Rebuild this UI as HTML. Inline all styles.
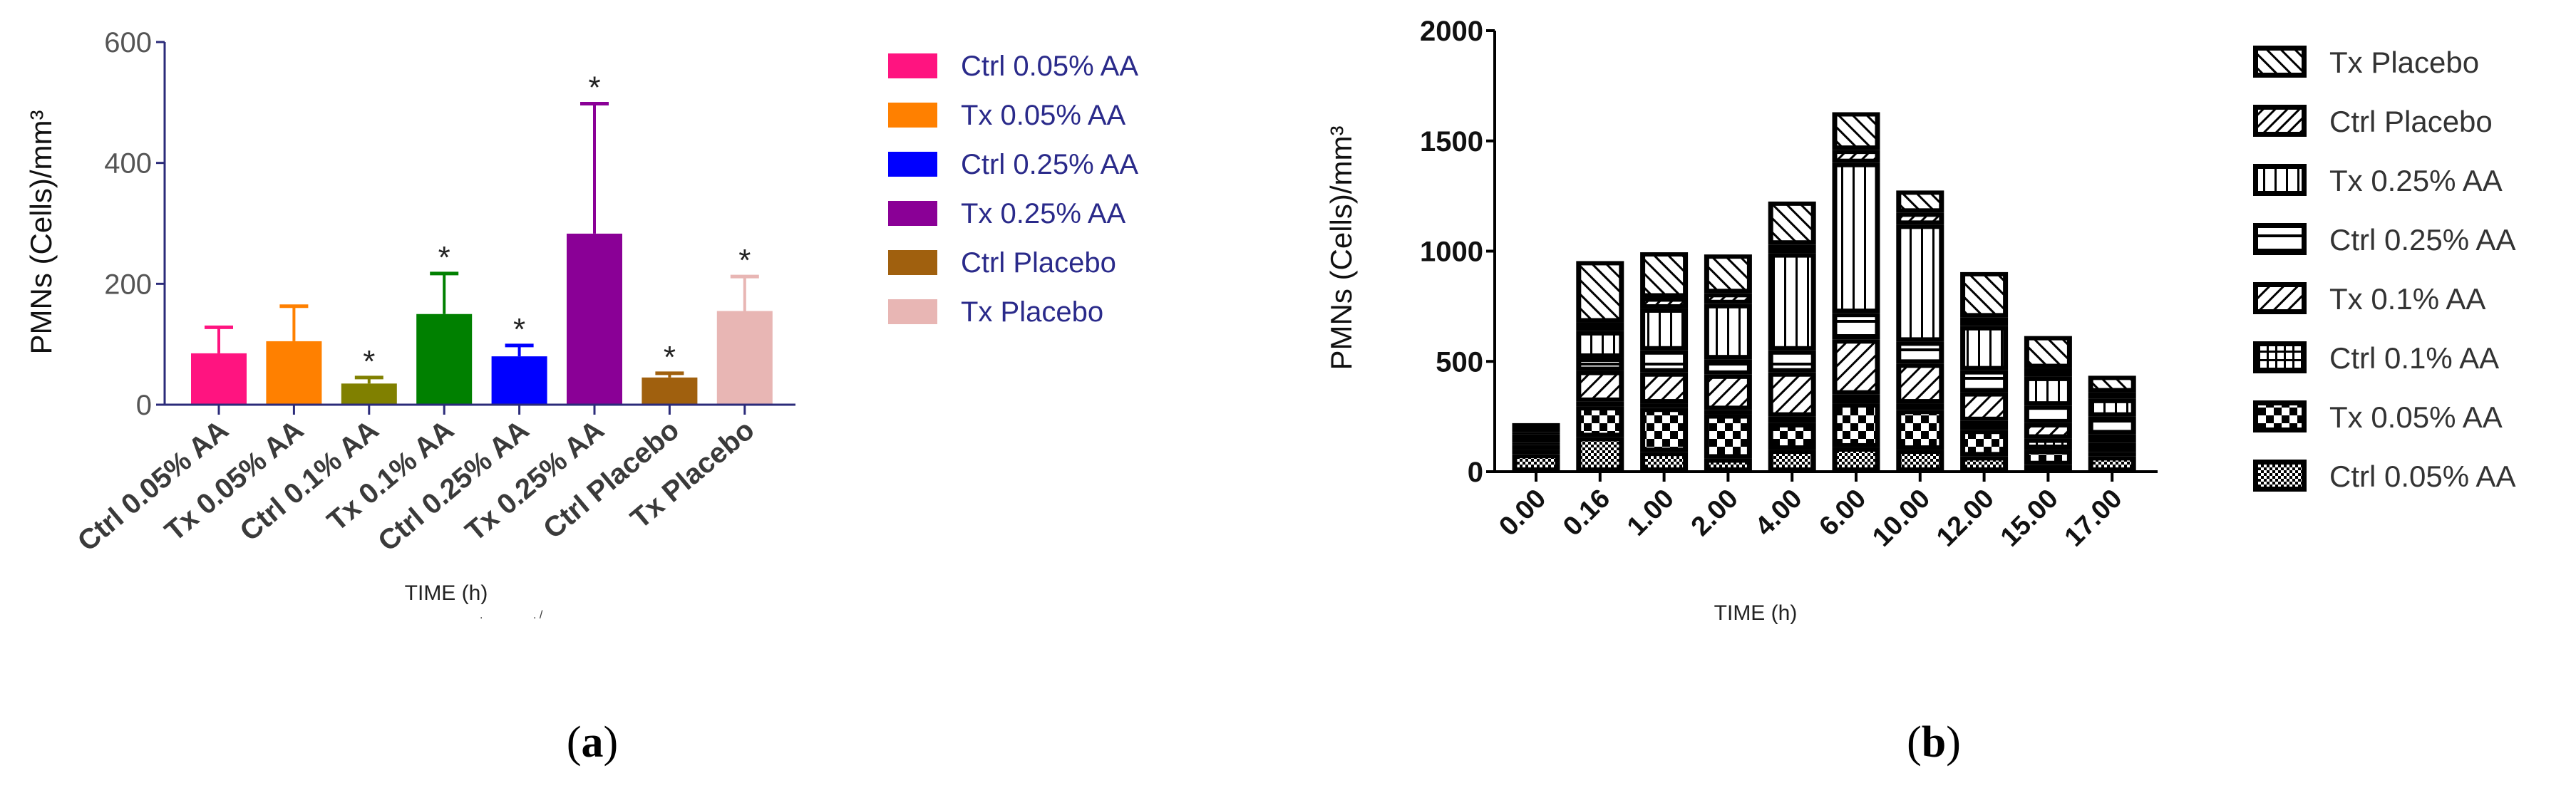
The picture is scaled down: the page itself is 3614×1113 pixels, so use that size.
<!DOCTYPE html>
<html><head><meta charset="utf-8"><style>
html,body{margin:0;padding:0;background:#fff;}
svg{display:block;font-family:"Liberation Sans",Arial,sans-serif;}
</style></head><body>
<svg id="fig" width="3614" height="1113" viewBox="0 0 3614 1113" xmlns="http://www.w3.org/2000/svg">
<defs>
 <pattern id="p-c05" patternUnits="userSpaceOnUse" width="8" height="8"><rect width="8" height="8" fill="#fff"/><rect width="4" height="4" fill="#000"/><rect x="4" y="4" width="4" height="4" fill="#000"/></pattern>
 <pattern id="p-t05" patternUnits="userSpaceOnUse" width="22" height="22"><rect width="22" height="22" fill="#fff"/><rect width="11" height="11" fill="#000"/><rect x="11" y="11" width="11" height="11" fill="#000"/></pattern>
 <pattern id="p-c1" patternUnits="userSpaceOnUse" width="12" height="12"><rect width="12" height="12" fill="#fff"/><rect width="12" height="3" fill="#000"/><rect width="3" height="12" fill="#000"/></pattern>
 <pattern id="p-t1" patternUnits="userSpaceOnUse" width="14" height="14" patternTransform="rotate(45)"><rect width="14" height="14" fill="#fff"/><rect width="3" height="14" fill="#000"/></pattern>
 <pattern id="p-c25" patternUnits="userSpaceOnUse" width="20" height="20"><rect width="20" height="20" fill="#fff"/><rect y="9" width="20" height="4" fill="#000"/></pattern>
 <pattern id="p-t25" patternUnits="userSpaceOnUse" width="16" height="16"><rect width="16" height="16" fill="#fff"/><rect x="7" width="3" height="16" fill="#000"/></pattern>
 <pattern id="p-cp" patternUnits="userSpaceOnUse" width="12" height="12" patternTransform="rotate(45)"><rect width="12" height="12" fill="#fff"/><rect width="3" height="12" fill="#000"/></pattern>
 <pattern id="p-tp" patternUnits="userSpaceOnUse" width="14" height="14" patternTransform="rotate(-45)"><rect width="14" height="14" fill="#fff"/><rect width="3" height="14" fill="#000"/></pattern>
</defs>
<g id="chartA"></g>
<g id="chartB"></g>
<text x="831" y="1062" font-family="Liberation Serif,serif" font-size="62" text-anchor="middle">(<tspan font-weight="bold">a</tspan>)</text>
<text x="2713" y="1062" font-family="Liberation Serif,serif" font-size="62" text-anchor="middle">(<tspan font-weight="bold">b</tspan>)</text>
<text x="673" y="868" font-size="16" fill="#333">.</text>
<text x="748" y="868" font-size="16" fill="#333">.  /</text>
</svg>
<script>
const NS='http://www.w3.org/2000/svg';
// ---- Chart A data ----
const catsA=['Ctrl 0.05% AA','Tx 0.05% AA','Ctrl 0.1% AA','Tx 0.1% AA','Ctrl 0.25% AA','Tx 0.25% AA','Ctrl Placebo','Tx Placebo'];
const meansA=[85,105,35,150,80,283,45,155];
const errTopA=[128,163,45,217,98,498,52,212];
const starA=[false,false,true,true,true,true,true,true];
const colorsA=['#ff1480','#ff8000','#808000','#008000','#0000ff','#8a0096','#a0600e','#e8b6b4'];
const ticksA=[0,200,400,600];
const legendA=['Ctrl 0.05% AA','Tx 0.05% AA','Ctrl 0.25% AA','Tx 0.25% AA','Ctrl Placebo','Tx Placebo'];
const legendColA=['#ff1480','#ff8000','#0000ff','#8a0096','#a0600e','#e8b6b4'];
// ---- Chart B data ----
const catsB=['0.00','0.16','1.00','2.00','4.00','6.00','10.00','12.00','15.00','17.00'];
const seriesB=['Ctrl 0.05% AA','Tx 0.05% AA','Ctrl 0.1% AA','Tx 0.1% AA','Ctrl 0.25% AA','Tx 0.25% AA','Ctrl Placebo','Tx Placebo'];
const c05=[80,157,90,60,100,110,100,70,30,70];
const t05=[20,140,200,200,120,200,180,120,70,20];
const c1=[20,20,20,20,30,40,30,40,50,40];
const t1=[10,140,140,160,200,250,180,130,70,40];
const c25=[40,60,100,70,100,120,100,100,80,80];
const t25=[10,120,190,250,440,680,530,200,130,80];
const cp=[30,40,50,50,40,60,55,40,40,30];
const tp=[10,278,205,175,195,170,100,205,145,75];
const ticksB=[0,500,1000,1500,2000];
const valsB=[c05,t05,c1,t1,c25,t25,cp,tp];
const patB=['p-c05','p-t05','p-c1','p-t1','p-c25','p-t25','p-cp','p-tp'];

function mk(parent,tag,attrs,text){const e=document.createElementNS(NS,tag);for(const k in attrs)e.setAttribute(k,attrs[k]);if(text!==undefined)e.textContent=text;parent.appendChild(e);return e;}

// ===== Chart A =====
(function(){
const g=document.getElementById('chartA');
const x0=231,x1=1116,yB=568,yT=59,max=600;
const y=v=>yB-(v/max)*(yB-yT);
const step=105.4, first=307;
const xc=i=>first+i*step;
const navy='#2b2b7a';
meansA.forEach((v,i)=>{
  const c=colorsA[i], cx=xc(i);
  const eb=mk(g,'line',{x1:cx,y1:y(v),x2:cx,y2:y(errTopA[i]),stroke:c,'stroke-width':4});
  
  
  const cap=mk(g,'line',{x1:cx-20,y1:y(errTopA[i]),x2:cx+20,y2:y(errTopA[i]),stroke:c,'stroke-width':5});
  
  
  const r=mk(g,'rect',{x:cx-39,y:y(v),width:78,height:yB-y(v),fill:c});
  
  
  if(starA[i]){const s=mk(g,'text',{x:cx,y:y(errTopA[i])-8,'font-size':44,'text-anchor':'middle',fill:'#222'},'*');
    
    }
  const t=mk(g,'line',{x1:cx,y1:yB,x2:cx,y2:yB+14,stroke:navy,'stroke-width':3});
  
  
  const lb=mk(g,'text',{x:0,y:0,'font-size':40,'font-weight':'bold','text-anchor':'end',fill:'#3a3a3a',transform:`translate(${cx+16},${yB+40}) rotate(-40)`},catsA[i]);
  
  
});
const ax=mk(g,'path',{d:`M${x0},${yT} V${yB} H${x1}`,stroke:navy,'stroke-width':3,fill:'none'});


ticksA.forEach(v=>{
  const t=mk(g,'line',{x1:x0-12,y1:y(v),x2:x0,y2:y(v),stroke:navy,'stroke-width':3});
  
  
  const l=mk(g,'text',{x:x0-18,y:y(v)+14,'font-size':40,'text-anchor':'end',fill:'#555'},String(v));
  
  
});
const yt=mk(g,'text',{x:0,y:0,'font-size':42,'text-anchor':'middle',fill:'#111',transform:'translate(72,326) rotate(-90)'},'PMNs (Cells)/mm³');


const xt=mk(g,'text',{x:626,y:842,'font-size':30,'text-anchor':'middle',fill:'#222'},'TIME (h)');


legendA.forEach((n,i)=>{
  const yy=75+i*69;
  const sw=mk(g,'rect',{x:1246,y:yy,width:69,height:35,fill:legendColA[i]});
  
  
  const tx=mk(g,'text',{x:1348,y:yy+31,'font-size':40,fill:'#2a2a8a'},n);
  
  
});
})();

// ===== Chart B =====
(function(){
const g=document.getElementById('chartB');
const x0=2097,x1=3027,yB=662,yT=43,max=2000;
const y=v=>yB-(v/max)*(yB-yT);
const first=2155, step=89.8;
const xc=i=>first+i*step;
const w=67;
catsB.forEach((c,i)=>{
  let acc=0; const cx=xc(i);
  valsB.forEach((arr,s)=>{
    const v=arr[i]; const top=y(acc+v), bot=y(acc); acc+=v;
    const h=bot-top;
    const r=mk(g,'rect',{x:cx-w/2,y:top,width:w,height:h,fill:'#000'});
    
    
    if(h>14){
      const inner=mk(g,'rect',{x:cx-w/2+7,y:top+6,width:w-14,height:h-12,fill:`url(#${patB[s]})`});
      
      
    }
  });
  const t=mk(g,'line',{x1:cx,y1:yB,x2:cx,y2:yB+14,stroke:'#000','stroke-width':4});
  
  
  const lb=mk(g,'text',{x:0,y:0,'font-size':38,'font-weight':'bold','text-anchor':'end',fill:'#111',transform:`translate(${cx+16},${yB+40}) rotate(-45)`},c);
  
  
});
const ax=mk(g,'path',{d:`M${x0},${yT} V${yB} H${x1}`,stroke:'#000','stroke-width':4,fill:'none'});


ticksB.forEach(v=>{
  const t=mk(g,'line',{x1:x0-12,y1:y(v),x2:x0,y2:y(v),stroke:'#000','stroke-width':4});
  
  
  const l=mk(g,'text',{x:x0-16,y:y(v)+14,'font-size':40,'font-weight':'bold','text-anchor':'end',fill:'#111'},String(v));
  
  
});
const yt=mk(g,'text',{x:0,y:0,'font-size':42,'text-anchor':'middle',fill:'#111',transform:'translate(1896,348) rotate(-90)'},'PMNs (Cells)/mm³');


const xt=mk(g,'text',{x:2463,y:870,'font-size':30,'text-anchor':'middle',fill:'#222'},'TIME (h)');


for(let k=0;k<8;k++){
  const s=7-k; const yy=64+k*83;
  const sw=mk(g,'rect',{x:3161,y:yy,width:75,height:45,fill:'#000'});
  
  
  const si=mk(g,'rect',{x:3168,y:yy+7,width:61,height:31,fill:`url(#${patB[s]})`});
  
  
  const tx=mk(g,'text',{x:3268,y:yy+38,'font-size':42,fill:'#333'},seriesB[s]);
  
  
}
})();
</script>
</body></html>
